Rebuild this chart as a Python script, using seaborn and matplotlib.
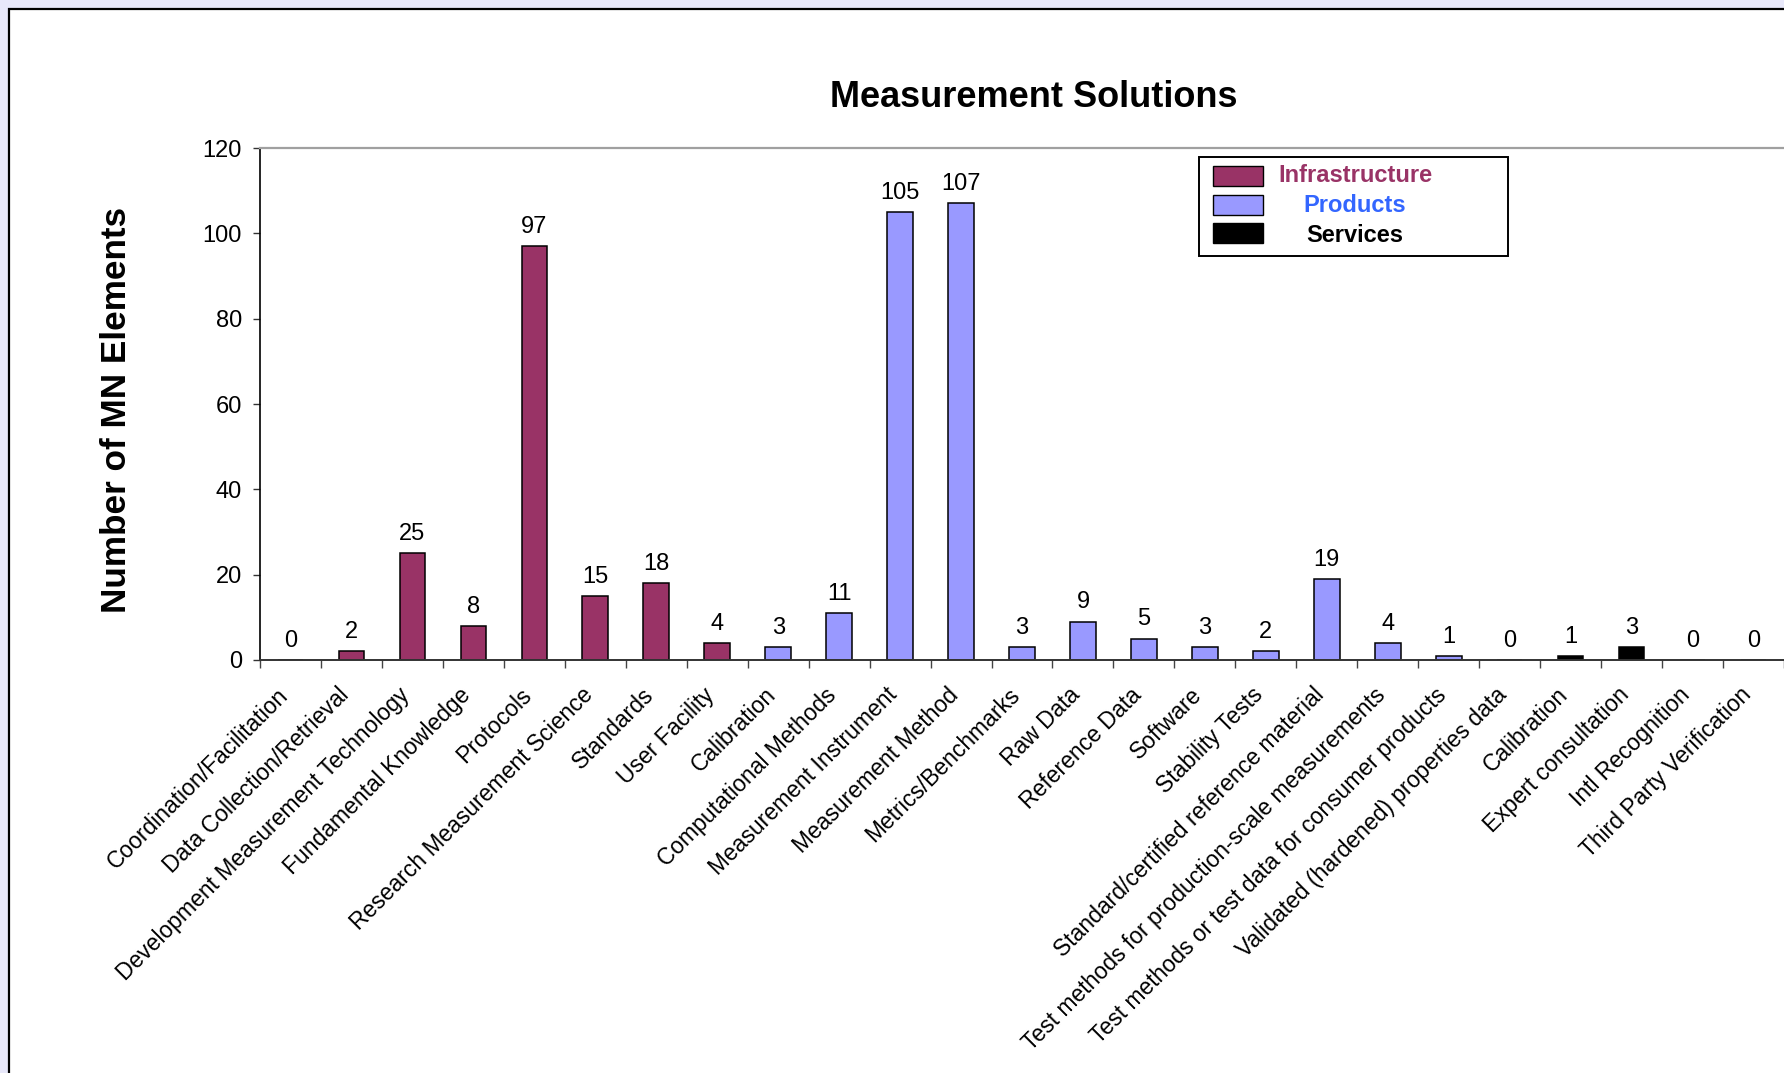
import matplotlib
matplotlib.use("Agg")
import matplotlib.pyplot as plt
import matplotlib.transforms as mtransforms
from matplotlib.patches import Rectangle
import pandas as pd
import seaborn as sns

categories = [
    "Coordination/Facilitation", "Data Collection/Retrieval",
    "Development Measurement Technology", "Fundamental Knowledge",
    "Protocols", "Research Measurement Science", "Standards", "User Facility",
    "Calibration", "Computational Methods", "Measurement Instrument",
    "Measurement Method", "Metrics/Benchmarks", "Raw Data", "Reference Data",
    "Software", "Stability Tests", "Standard/certified reference material",
    "Test methods for production-scale measurements",
    "Test methods or test data for consumer products",
    "Validated (hardened) properties data",
    "Calibration", "Expert consultation", "Intl Recognition",
    "Third Party Verification",
]
values = [0, 2, 25, 8, 97, 15, 18, 4,
          3, 11, 105, 107, 3, 9, 5, 3, 2, 19, 4, 1, 0,
          1, 3, 0, 0]
groups = ["Infrastructure"] * 8 + ["Products"] * 13 + ["Services"] * 4

group_names = ["Infrastructure", "Products", "Services"]
bar_colors = ["#993366", "#9999FF", "#000000"]
legend_text_colors = ["#993366", "#3366FF", "#000000"]
y_ticks = [0, 20, 40, 60, 80, 100, 120]

sns.set_style("white")
plt.rcParams["font.family"] = ["Liberation Sans", "DejaVu Sans"]
plt.rcParams["text.color"] = "black"
plt.rcParams["axes.labelcolor"] = "black"
plt.rcParams["xtick.color"] = "black"
plt.rcParams["ytick.color"] = "black"

W, H = 1784, 1073
fig = plt.figure(figsize=(W / 100, H / 100), dpi=100, facecolor="#E8E8FA")


def fx(px):
    return px / W


def fy(py):
    return 1 - py / H


# white chart panel with black frame, kept behind the axes
fig.patches.append(Rectangle((fx(9), -0.02), 1.1, fy(9) + 0.02,
                             transform=fig.transFigure, facecolor="white",
                             edgecolor="black", linewidth=1.6, zorder=-5))

ax = fig.add_axes([fx(260), fy(660), fx(W - 260), (660 - 148) / H])
ax.set_facecolor("none")
ax.set_zorder(1)

df = pd.DataFrame({"pos": range(len(categories)), "value": values,
                   "group": groups})
sns.barplot(data=df, x="pos", y="value", hue="group",
            palette=dict(zip(group_names, bar_colors)), hue_order=group_names,
            dodge=False, width=0.42, saturation=1, edgecolor="black",
            linewidth=1.1, legend=False, ax=ax)

for i, v in enumerate(values):
    ax.annotate(str(v), (i, v), xytext=(0, 9.5), textcoords="offset points",
                ha="center", va="baseline", fontsize=17, color="black")

ax.set_xlim(-0.5, len(categories) - 0.5)
ax.set_ylim(0, 120)
ax.set_yticks(y_ticks)
ax.tick_params(axis="y", labelsize=17, length=5, width=1, color="#333333",
               labelcolor="black", pad=8, direction="out", left=True)
ax.set_xticks(range(len(categories)))
ax.set_xticklabels(categories, rotation=45, ha="right",
                   rotation_mode="anchor", va="center", fontsize=16.5,
                   color="black")
ax.tick_params(axis="x", which="major", length=0, pad=22)
shift = mtransforms.ScaledTranslation(-6 / 100, -1 / 100, fig.dpi_scale_trans)
for lbl in ax.get_xticklabels():
    lbl.set_transform(lbl.get_transform() + shift)
ax.set_xticks([k - 0.5 for k in range(len(categories) + 1)], minor=True)
ax.tick_params(axis="x", which="minor", length=6, width=1, color="#444444",
               direction="out", bottom=True)
ax.set_xlabel("")
ax.set_ylabel("")

ax.spines["left"].set_color("black")
ax.spines["left"].set_linewidth(1.2)
ax.spines["bottom"].set_color("#333333")
ax.spines["bottom"].set_linewidth(1.4)
ax.spines["top"].set_color("#A0A0A0")
ax.spines["top"].set_linewidth(1.6)
ax.spines["right"].set_visible(False)
ax.grid(False)

fig.text(fx(1034), fy(107), "Measurement Solutions", ha="center",
         va="baseline", fontsize=26, fontweight="bold", color="black")
fig.text(fx(117), fy(410), "Number of MN Elements", ha="center", va="center",
         rotation=90, fontsize=25.3, fontweight="bold", color="black")

# legend box
fig.patches.append(Rectangle((fx(1199), fy(256)), fx(1508 - 1199),
                             (256 - 157) / H, transform=fig.transFigure,
                             facecolor="white", edgecolor="black",
                             linewidth=1.4, zorder=3))
patch_centers = [176, 205, 233]
text_centers = [175, 206, 236]
for name, bc, tc, pc, tcy in zip(group_names, bar_colors, legend_text_colors,
                                 patch_centers, text_centers):
    fig.patches.append(Rectangle((fx(1213), fy(pc + 10)), fx(50), 20 / H,
                                 transform=fig.transFigure, facecolor=bc,
                                 edgecolor="black", linewidth=1.0, zorder=4))
    fig.text(fx(1355), fy(tcy), name, ha="center", va="center",
             fontsize=17, fontweight="bold", color=tc, zorder=5)

fig.savefig("out.png", dpi=100, facecolor=fig.get_facecolor())
